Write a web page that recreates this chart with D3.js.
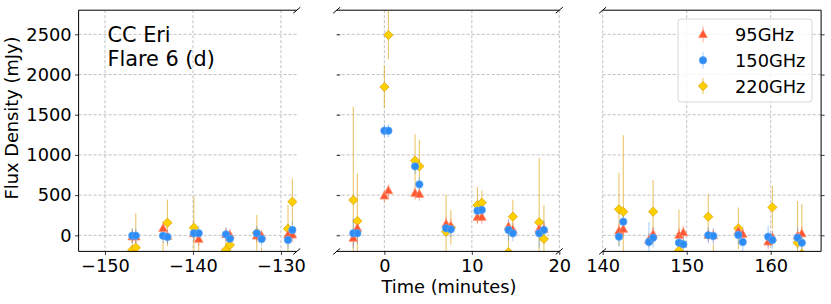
<!DOCTYPE html>
<html>
<head>
<meta charset="utf-8">
<script src="https://cdn.jsdelivr.net/npm/d3@7"></script>
<style>
body { margin: 0; background: #fff; }
svg { font-family: "DejaVu Sans", sans-serif; }
.grid line { stroke: #b0b0b0; stroke-width: 0.8; stroke-dasharray: 3, 2; }
.tick line { stroke: #000; stroke-width: 0.8; }
.tick text { fill: #000; }
</style>
</head>
<body>
<svg id="chart" width="831" height="304"></svg>
<script>
// observation times (minutes from flare peak)
var times = [-146.9, -146.5, -143.4, -142.9, -139.9, -139.35, -136.25, -135.8, -132.75, -132.2, -129.2, -128.7,
	-3.55, -3.09, 0, 0.46, 3.51, 4.0, 7.06, 7.6, 10.64, 11.14, 14.19, 14.69, 17.7, 18.24,
	141.94, 142.45, 145.5, 146.0, 149.08, 149.6, 152.57, 153.17, 156.15, 156.67, 159.7, 160.2, 163.2, 163.7];

var flux95 = [-20, -20, 85, -15, 20, -50, 10, 0, -10, -10, 4, 4,
	-37, 87, 489, 555, 522, 510, 140, 116, 224, 224, 107, 66, 75, 75,
	53, 75, -60, 12, 0, 32, 0, -5, 53, 12, -83, -30, -10, 20];
var err95 = [80, 80, 90, 80, 90, 80, 80, 80, 80, 80, 90, 90,
	110, 120, 80, 80, 80, 80, 90, 90, 80, 80, 90, 90, 90, 90,
	90, 90, 90, 90, 90, 90, 80, 80, 90, 90, 90, 90, 90, 90];

var flux150 = [-5, -5, -5, -20, 25, 25, 12, -42, 25, -46, -58, 66,
	25, 25, 1301, 1301, 858, 634, 87, 75, 306, 315, 66, 25, 25, 66,
	-17, 169, -83, -30, -92, -112, 0, -8, 4, -83, -17, -58, -30, -92];
var err150 = [90, 90, 90, 90, 90, 90, 90, 90, 90, 90, 110, 110,
	190, 130, 80, 80, 90, 90, 100, 100, 90, 90, 130, 100, 180, 120,
	125, 120, 250, 120, 140, 120, 100, 100, 110, 130, 130, 110, 130, 130];

var flux220 = [-183, -154, -300, 157, 95, -300, -183, -120, 32, -300, 82, 418,
	439, 178, 1845, 2491, 928, 858, 45, 100, 377, 406, -210, 232, 162, -46,
	323, 294, -320, 294, -190, -350, 232, -300, 87, -330, -330, 348, -92, -230];
var err220 = [270, 430, 233, 290, 385, 204, 183, 150, 220, 150, 295, 290,
	1160, 595, 265, 300, 330, 330, 455, 215, 228, 150, 250, 210, 800, 420,
	455, 950, 100, 395, 510, 100, 280, 190, 260, 100, 100, 265, 520, 618];

var bands = ["95GHz", "150GHz", "220GHz"];
var yTicks = [0, 500, 1000, 1500, 2000, 2500];
var xTicks1 = [-150, -140, -130],
	xTicks2 = [0, 10, 20],
	xTicks3 = [140, 150, 160];

var svg = d3.select("#chart");
var yTop = 10.2, yBottom = 251.4;
var fs = "17.8px";
var y = d3.scaleLinear().domain([-200, 2800]).range([yBottom, yTop]);

var panels = [
	{ domain: [-153, -128.2], range: [78.6, 296.8], ticks: xTicks1, left: true, right: false },
	{ domain: [-5.45, 20], range: [336.7, 559.3], ticks: xTicks2, left: false, right: false },
	{ domain: [140, 166], range: [602.7, 821.1], ticks: xTicks3, left: false, right: true }
];

var series = [
	{ name: bands[2], vals: flux220, errs: err220, shape: "diamond", fill: "#ffd000", stroke: "#dba500", ebar: "#e3ad2c", eop: 0.7 },
	{ name: bands[0], vals: flux95, errs: err95, shape: "triangle", fill: "#ff5733", stroke: "#ff8a66", ebar: "#ff5733", eop: 0.45 },
	{ name: bands[1], vals: flux150, errs: err150, shape: "circle", fill: "#2e8cf5", stroke: "#5aa4f7", ebar: "#2e8cf5", eop: 0.4 }
];

function markerPath(shape) {
	if (shape == "diamond") return "M0,-4.6L4.6,0L0,4.6L-4.6,0Z";
	if (shape == "triangle") return "M0,-4.8L4.3,3L-4.3,3Z";
	return d3.symbol().type(d3.symbolCircle).size(Math.PI * 3.7 * 3.7)();
}

panels.forEach(function(p, pi) {
	var x = d3.scaleLinear().domain(p.domain).range(p.range);
	var w = p.range[1] - p.range[0];
	var g = svg.append("g").attr("class", "panel" + pi);

	svg.append("clipPath").attr("id", "clip" + pi)
		.append("rect")
		.attr("x", p.range[0]).attr("y", yTop)
		.attr("width", w).attr("height", yBottom - yTop);

	// grid
	var grid = g.append("g").attr("class", "grid");
	grid.selectAll("line.gx").data(p.ticks).enter().append("line")
		.attr("x1", function(d) { return x(d); })
		.attr("x2", function(d) { return x(d); })
		.attr("y1", yTop).attr("y2", yBottom);
	grid.selectAll("line.gy").data(yTicks).enter().append("line")
		.attr("x1", p.range[0]).attr("x2", p.range[1])
		.attr("y1", function(d) { return y(d); })
		.attr("y2", function(d) { return y(d); });

	// points in this panel
	var idx = d3.range(times.length).filter(function(i) {
		return times[i] >= p.domain[0] && times[i] <= p.domain[1];
	});

	var plot = g.append("g").attr("clip-path", "url(#clip" + pi + ")");
	series.forEach(function(s) {
		plot.append("g").selectAll("line").data(idx).enter().append("line")
			.attr("x1", function(i) { return x(times[i]); })
			.attr("x2", function(i) { return x(times[i]); })
			.attr("y1", function(i) { return y(s.vals[i] - s.errs[i]); })
			.attr("y2", function(i) { return y(s.vals[i] + s.errs[i]); })
			.attr("stroke", s.ebar)
			.attr("stroke-opacity", s.eop)
			.attr("stroke-width", 1.1);
	});
	series.forEach(function(s) {
		plot.append("g").selectAll("path").data(idx).enter().append("path")
			.attr("d", markerPath(s.shape))
			.attr("transform", function(i) { return "translate(" + x(times[i]) + "," + y(s.vals[i]) + ")"; })
			.attr("fill", s.fill)
			.attr("stroke", s.stroke)
			.attr("stroke-width", 0.8);
	});

	// spines
	var sp = g.append("g").attr("stroke", "#000").attr("stroke-width", 1);
	sp.append("line").attr("x1", p.range[0]).attr("x2", p.range[1]).attr("y1", yTop).attr("y2", yTop);
	sp.append("line").attr("x1", p.range[0]).attr("x2", p.range[1]).attr("y1", yBottom).attr("y2", yBottom);
	if (p.left) sp.append("line").attr("x1", p.range[0]).attr("x2", p.range[0]).attr("y1", yTop).attr("y2", yBottom);
	if (p.right) sp.append("line").attr("x1", p.range[1]).attr("x2", p.range[1]).attr("y1", yTop).attr("y2", yBottom);

	// break marks
	var brk = [];
	if (!p.left) brk.push(p.range[0]);
	if (!p.right) brk.push(p.range[1]);
	brk.forEach(function(bx) {
		[yTop, yBottom].forEach(function(by) {
			sp.append("line")
				.attr("x1", bx - 3.5).attr("y1", by + 3)
				.attr("x2", bx + 3.5).attr("y2", by - 3);
		});
	});

	// axes
	var xa = g.append("g").attr("transform", "translate(0," + yBottom + ")")
		.call(d3.axisBottom(x).tickValues(p.ticks).tickSize(3.5).tickPadding(4.5));
	xa.select(".domain").remove();
	xa.selectAll("text").attr("font-size", fs).attr("font-family", "DejaVu Sans");

	if (pi == 0) {
		var ya = g.append("g").attr("transform", "translate(" + p.range[0] + ",0)")
			.call(d3.axisLeft(y).tickValues(yTicks).tickSize(3.5).tickPadding(3.5).tickFormat(d3.format("d")));
		ya.select(".domain").remove();
		ya.selectAll("text").attr("font-size", fs).attr("font-family", "DejaVu Sans");
	} else {
		var ra = g.append("g").attr("transform", "translate(" + (pi == 1 ? p.range[0] : p.range[1]) + ",0)")
			.call(d3.axisRight(y).tickValues(yTicks).tickSize(3.5).tickFormat(""));
		ra.select(".domain").remove();
	}
});

// labels
svg.append("text")
	.attr("x", 449).attr("y", 293)
	.attr("text-anchor", "middle")
	.attr("font-size", fs)
	.text("Time (minutes)");
svg.append("text")
	.attr("transform", "translate(18,118) rotate(-90)")
	.attr("text-anchor", "middle")
	.attr("font-size", fs)
	.text("Flux Density (mJy)");
svg.append("text").attr("x", 107.5).attr("y", 42).attr("font-size", "20.8px").text("CC Eri");
svg.append("text").attr("x", 107.5).attr("y", 66).attr("font-size", "20.8px").text("Flare 6 (d)");

// legend
var lg = svg.append("g");
lg.append("rect")
	.attr("x", 678).attr("y", 19).attr("width", 134).attr("height", 83).attr("rx", 3)
	.attr("fill", "#fff").attr("fill-opacity", 0.8)
	.attr("stroke", "#d6d6d6").attr("stroke-width", 1);
var legendOrder = [series[1], series[2], series[0]];
legendOrder.forEach(function(s, i) {
	var ly = 34.5 + i * 25.8;
	lg.append("line")
		.attr("x1", 703).attr("x2", 703).attr("y1", ly - 8).attr("y2", ly + 8)
		.attr("stroke", s.ebar).attr("stroke-opacity", s.eop).attr("stroke-width", 1.1);
	lg.append("path")
		.attr("d", markerPath(s.shape))
		.attr("transform", "translate(703," + ly + ")")
		.attr("fill", s.fill).attr("stroke", s.stroke).attr("stroke-width", 0.8);
	lg.append("text")
		.attr("x", 735).attr("y", ly).attr("dy", "0.36em")
		.attr("font-size", fs)
		.text(s.name);
});
</script>
</body>
</html>
